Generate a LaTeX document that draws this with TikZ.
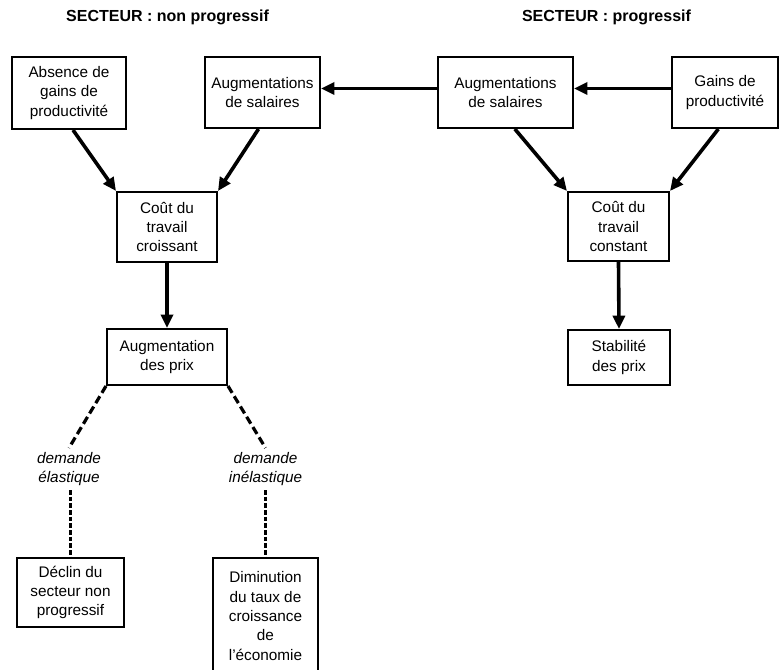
\documentclass[tikz,border=0pt]{standalone}
\usepackage{fontspec}
\setmainfont{Liberation Sans}
\usetikzlibrary{arrows.meta,positioning}

\begin{document}
\begin{tikzpicture}[x=0.75pt,y=-0.75pt,>={Triangle[length=10pt,width=9pt]},
    box/.style={draw,line width=1.5pt,inner sep=0pt,align=center,
      font=\fontsize{11.5}{14.5}\selectfont},
    lbl/.style={align=center,inner sep=3pt,font=\fontsize{11.5}{14.5}\selectfont\itshape},
    head/.style={font=\fontsize{12}{14}\selectfont\bfseries},
    arr/.style={->,line width=2.7pt},
    dsh/.style={line width=2.4pt,dash pattern=on 6pt off 3pt},
    vdsh/.style={line width=2pt,dash pattern=on 3.5pt off 1.5pt}]
  \useasboundingbox (0,0) rectangle (782,670);
  \node[head] (hnp) at (167.5,17) {SECTEUR : non progressif};
  \node[head] (hp) at (606.5,17) {SECTEUR : progressif};
  \node[box,minimum width=85.5pt,minimum height=54pt] (absence) at (69,93)
     {Absence de\\gains de\\productivité};
  \node[box,minimum width=86.25pt,minimum height=53.25pt] (augL) at (262.5,92.5)
     {Augmentations\\de salaires};
  \node[box,minimum width=101.25pt,minimum height=53.25pt] (augR) at (505.5,92.5)
     {Augmentations\\de salaires};
  \node[box,minimum width=79.5pt,minimum height=53.25pt] (gains) at (725,92.5)
     {Gains de\\productivité};
  \node[box,minimum width=75pt,minimum height=52.5pt] (coutL) at (167,227)
     {Coût du\\travail\\croissant};
  \node[box,minimum width=75.75pt,minimum height=51.75pt] (coutR) at (618.5,226.5)
     {Coût du\\travail\\constant};
  \node[box,minimum width=90pt,minimum height=42pt] (prix) at (167,357)
     {Augmentation\\des prix};
  \node[box,minimum width=76.5pt,minimum height=41.25pt] (stab) at (619,357.5)
     {Stabilité\\des prix};
  \node[lbl] (elast) at (69,469) {demande\\élastique};
  \node[lbl] (inelast) at (265.5,469) {demande\\inélastique};
  \node[box,minimum width=80.25pt,minimum height=51.75pt] (declin) at (70.5,592.5)
     {Déclin du\\secteur non\\progressif};
  \node[box,minimum width=78.75pt,minimum height=87pt] (dimin) at (265.5,616)
     {Diminution\\du taux de\\croissance\\de\\l'économie};
  \draw[arr] ([yshift=3pt]augR.west) -- ([yshift=3pt]augL.east);
  \draw[arr] ([yshift=3pt]gains.west) -- ([yshift=3pt]augR.east);
  \draw[arr] ([xshift=3pt]absence.south) -- (coutL.north west);
  \draw[arr] ([xshift=-3pt]augL.south) -- (coutL.north east);
  \draw[arr] ([xshift=7pt]augR.south) -- (coutR.north west);
  \draw[arr] ([xshift=-5pt]gains.south) -- (coutR.north east);
  \draw[arr] (coutL.south) -- (prix.north);
  \draw[arr] (coutR.south) -- (stab.north);
  \draw[dsh] (prix.south west) -- (elast.north);
  \draw[dsh] (prix.south east) -- (inelast.north);
  \draw[vdsh] (declin.north |- elast.south) -- (declin.north);
  \draw[vdsh] (dimin.north |- inelast.south) -- (dimin.north);
\end{tikzpicture}
\end{document}
